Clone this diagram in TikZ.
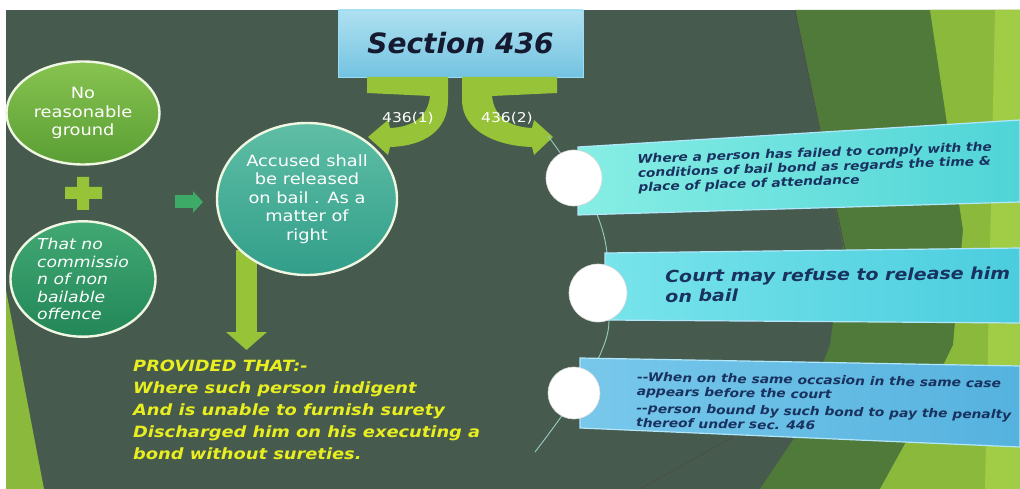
\documentclass[tikz,border=0pt]{standalone}
\usepackage{fontspec}
\setmainfont[FakeStretch=1.15]{DejaVu Sans}
\newfontfamily\titlefont{DejaVu Sans}
\usetikzlibrary{arrows.meta,shapes.geometric}

\definecolor{slide}{RGB}{70,91,77}
\definecolor{facetmid}{RGB}{80,122,58}
\definecolor{facetlight}{RGB}{138,185,60}
\definecolor{facetbright}{RGB}{160,204,70}
\definecolor{lime}{RGB}{150,195,55}
\definecolor{leaftop}{RGB}{135,195,80}
\definecolor{leafbot}{RGB}{90,158,52}
\definecolor{seatop}{RGB}{65,168,115}
\definecolor{seabot}{RGB}{35,135,88}
\definecolor{tealtop}{RGB}{95,190,165}
\definecolor{tealbot}{RGB}{50,158,138}
\definecolor{arrowgreen}{RGB}{62,170,104}
\definecolor{titletop}{RGB}{175,225,240}
\definecolor{titlebot}{RGB}{115,195,225}
\definecolor{titleink}{RGB}{22,26,48}
\definecolor{navyink}{RGB}{25,50,95}
\definecolor{provyellow}{RGB}{232,238,32}
\definecolor{arcline}{RGB}{150,205,195}
\definecolor{ribAl}{RGB}{135,238,228}
\definecolor{ribAr}{RGB}{80,212,215}
\definecolor{ribBl}{RGB}{120,228,235}
\definecolor{ribBr}{RGB}{75,205,222}
\definecolor{ribCl}{RGB}{120,200,235}
\definecolor{ribCr}{RGB}{85,178,222}

\begin{document}
\begin{tikzpicture}[x=1pt, y=-1pt,
    every node/.style={inner sep=0pt},
    bubble/.style={ellipse, draw=white!85!lime, line width=2.4pt, text=white,
        align=center, font=\fontsize{15.5}{18.5}\selectfont},
    ribbon/.style={draw=white!70!cyan, line width=1.2pt},
    spot/.style={circle, fill=white, draw=gray!30, line width=0.6pt},
    ribtext/.style={text=navyink, align=left, anchor=north west,
        font=\bfseries\itshape\fontsize{12}{14.2}\selectfont},
    lbl/.style={text=white, font=\fontsize{13.5}{15}\selectfont}
]
\useasboundingbox (0,0) rectangle (1020,489);
% slide background
\fill[white] (0,0) rectangle (1020,489);
\fill[slide] (6,10) rectangle (1020,489);
\fill[facetmid] (795,10) -- (1020,10) -- (1020,489) -- (760,489)
    -- (793,440) -- (830,345) -- (843,245) -- cycle;
\fill[facetlight] (930,10) -- (1020,10) -- (1020,489) -- (880,489)
    -- (907,440) -- (953,345) -- (963,230) -- cycle;
\fill[facetbright] (995,10) -- (1020,10) -- (1020,489) -- (985,489) -- cycle;
\fill[facetlight] (6,290) -- (44,489) -- (6,489) -- cycle;
\draw[black!70, line width=0.8pt] (795,10) -- (845,250);
\draw[black!70, line width=0.8pt] (733,437) -- (640,489);

% title and the two curled arrows
\node[minimum width=245, minimum height=67, top color=titletop,
    bottom color=titlebot, draw=white!60!cyan, line width=0.8pt,
    font=\titlefont\bfseries\itshape\fontsize{28}{30}\selectfont,
    text=titleink] (sec) at (460.5,43.5) {Section 436};
\fill[lime] (367,77) -- (448,77) -- (448,100)
    .. controls (448,130) and (425,146) .. (390,147)
    -- (388,155) -- (368,137) -- (388,120) -- (390,128)
    .. controls (414,127) and (428,116) .. (430,96) -- (367,93) -- cycle;
\fill[lime] (462,77) -- (557,77) -- (557,93) -- (492,96)
    .. controls (494,116) and (508,127) .. (532,128)
    -- (534,120) -- (553,137) -- (534,155) -- (532,147)
    .. controls (495,146) and (462,130) .. (462,100) -- cycle;
\node[lbl] (one) at (408,118) {436(1)};
\node[lbl] (two) at (507,118) {436(2)};

% left side
\node[bubble, minimum width=153, minimum height=103, top color=leaftop,
    bottom color=leafbot] (nrg) at (83,113) {No\\reasonable\\ground};
\fill[lime] (77,177) -- (89,177) -- (89,187) -- (102,187) -- (102,199)
    -- (89,199) -- (89,210) -- (77,210) -- (77,199) -- (65,199)
    -- (65,187) -- (77,187) -- cycle;
\node[bubble, minimum width=145, minimum height=115, top color=seatop,
    bottom color=seabot, align=left,
    font=\itshape\fontsize{15}{17.5}\selectfont]
    (tno) at (83,279) {That no\\commissio\\n of non\\bailable\\offence};
\coordinate (sa1) at (175,202);
\coordinate (sa2) at (203,202);
\draw[line width=13pt, arrowgreen, -{Triangle[width=21pt,length=10pt]}]
    (sa1) -- (sa2);
\coordinate (dn1) at (246.5,250);
\coordinate (dn2) at (246.5,350);
\draw[line width=21pt, lime, -{Triangle[width=40pt,length=18pt]}]
    (dn1) -- (dn2);
\node[bubble, minimum width=180, minimum height=152, top color=tealtop,
    bottom color=tealbot] (acc) at (307,199)
    {Accused shall\\be released\\on bail . As a\\matter of\\right};
\node[anchor=north west, text=provyellow, align=left,
    font=\bfseries\itshape\fontsize{15.5}{22}\selectfont] (prov) at (133,359.5)
    {PROVIDED THAT:-\\Where such person indigent\\And is unable to furnish surety\\Discharged him on his executing a\\bond without sureties.};

% right side
\draw[arcline, line width=0.9pt] plot[smooth, tension=0.7]
    coordinates {(548,136) (598,217) (608,293) (599,357) (535,452)};
\draw[ribbon, left color=ribAl, right color=ribAr]
    (578,147) -- (1020,120) -- (1020,202) -- (578,215) -- cycle;
\draw[ribbon, left color=ribBl, right color=ribBr]
    (605,253) -- (1020,248) -- (1020,323) -- (605,320) -- cycle;
\draw[ribbon, left color=ribCl, right color=ribCr]
    (580,358) -- (1020,366) -- (1020,447) -- (580,428) -- cycle;
\node[spot, minimum size=56] (s1) at (574,178) {};
\node[spot, minimum size=58] (s2) at (598,293) {};
\node[spot, minimum size=52] (s3) at (574,393) {};
\node[ribtext, rotate=2] (r1) at (637,154)
    {Where a person has failed to comply with the\\conditions of bail bond as regards the time \&\\place of place of attendance};
\node[ribtext, rotate=0.5, font=\bfseries\itshape\fontsize{16.5}{20}\selectfont]
    (r2) at (665,269.5) {Court may refuse to release him\\on bail};
\node[ribtext, rotate=-1] (r3) at (637,372)
    {{-}{-}When on the same occasion in the same case\\appears before the court\\[3pt]{-}{-}person bound by such bond to pay the penalty\\thereof under sec. 446};
\end{tikzpicture}
\end{document}
